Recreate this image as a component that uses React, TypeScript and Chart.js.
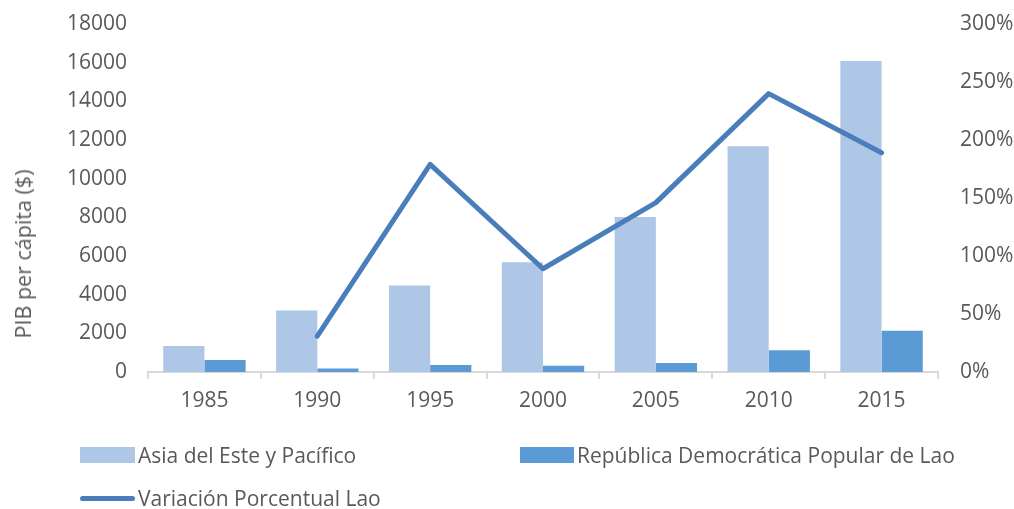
import React, { useEffect, useRef } from "react";
import { Chart, registerables } from "chart.js";

Chart.register(...registerables);

const years = ["1985", "1990", "1995", "2000", "2005", "2010", "2015"];
const asiaPacifico = [1340, 3180, 4480, 5680, 8020, 11680, 16080];
const laoPib = [620, 180, 360, 320, 460, 1120, 2140];
const variacionLao = [null, 0.31, 1.79, 0.89, 1.46, 2.40, 1.89];

const labelAsia = "Asia del Este y Pacífico";
const labelLao = "República Democrática Popular de Lao";
const labelVar = "Variación Porcentual Lao";
const yTitle = "PIB per cápita ($)";

const colAsia = "#aec7e7";
const colLao = "#5b9bd5";
const colLine = "#4a7ebb";
const textCol = "#595959";
const FONT = "'Open Sans', sans-serif";
const FS = 21;

export default function App() {
  const ref = useRef<HTMLCanvasElement | null>(null);
  useEffect(() => {
    if (!ref.current) return;
    const font = { family: FONT, size: FS };
    const noPad = (s: any) => {
      s.paddingTop = 0;
      s.paddingBottom = 0;
    };
    const chart = new Chart(ref.current, {
      type: "bar",
      data: {
        labels: years,
        datasets: [
          {
            type: "line",
            label: labelVar,
            data: variacionLao,
            yAxisID: "y1",
            borderColor: colLine,
            backgroundColor: colLine,
            borderWidth: 5,
            pointRadius: 0,
            tension: 0,
            order: 0,
            borderCapStyle: "round",
            borderJoinStyle: "round",
          } as any,
          {
            label: labelAsia,
            data: asiaPacifico,
            backgroundColor: colAsia,
            yAxisID: "y",
            order: 1,
            categoryPercentage: 0.73,
            barPercentage: 1,
          },
          {
            label: labelLao,
            data: laoPib,
            backgroundColor: colLao,
            yAxisID: "y",
            order: 1,
            categoryPercentage: 0.73,
            barPercentage: 1,
          },
        ],
      },
      options: {
        responsive: false,
        animation: false,
        devicePixelRatio: 1,
        layout: { padding: { left: 0, right: 0, top: 24, bottom: 87 } },
        plugins: { legend: { display: false }, tooltip: { enabled: false } },
        scales: {
          x: {
            grid: {
              display: true,
              drawOnChartArea: false,
              drawTicks: true,
              tickLength: 7,
              color: "#d9d9d9",
              lineWidth: 2,
            },
            border: { display: true, color: "#d9d9d9", width: 2 },
            ticks: { color: textCol, font, padding: 9 },
            afterFit: (s: any) => {
              s.height = 50;
            },
          },
          y: {
            position: "left",
            min: 0,
            max: 18000,
            grid: { display: false, drawTicks: false },
            border: { display: false },
            ticks: {
              stepSize: 2000,
              color: textCol,
              font,
              padding: 21,
              callback: (v: any) => String(v),
            },
            afterFit: (s: any) => {
              s.width = 148;
              noPad(s);
            },
          },
          y1: {
            position: "right",
            min: 0,
            max: 3,
            grid: { display: false, drawTicks: false },
            border: { display: false },
            ticks: {
              stepSize: 0.5,
              color: textCol,
              font,
              padding: 22,
              callback: (v: any) => Math.round(Number(v) * 100) + "%",
            },
            afterFit: (s: any) => {
              s.width = 76;
              noPad(s);
            },
          },
        },
      },
    });
    return () => chart.destroy();
  }, []);

  const legendText: React.CSSProperties = {
    position: "absolute",
    fontFamily: FONT,
    fontSize: FS,
    color: textCol,
    lineHeight: "24px",
    whiteSpace: "nowrap",
  };

  return (
    <div style={{ position: "fixed", left: 0, top: 0, width: 1014, height: 509, background: "#fff" }}>
      <canvas ref={ref} width={1014} height={509} style={{ display: "block" }} />
      <div
        style={{
          position: "absolute",
          left: 23,
          top: 254,
          transform: "translate(-50%, -50%) rotate(-90deg)",
          fontFamily: FONT,
          fontSize: 21.5,
          color: textCol,
          whiteSpace: "nowrap",
          lineHeight: "24px",
        }}
      >
        {yTitle}
      </div>
      <div style={{ position: "absolute", left: 80, top: 447, width: 55, height: 16, background: colAsia }} />
      <div style={{ ...legendText, left: 138, top: 443 }}>{labelAsia}</div>
      <div style={{ position: "absolute", left: 520, top: 447, width: 54, height: 16, background: colLao }} />
      <div style={{ ...legendText, left: 577, top: 443 }}>{labelLao}</div>
      <div
        style={{
          position: "absolute",
          left: 80,
          top: 496,
          width: 55,
          height: 5,
          borderRadius: 3,
          background: colLine,
        }}
      />
      <div style={{ ...legendText, left: 138, top: 486 }}>{labelVar}</div>
    </div>
  );
}
